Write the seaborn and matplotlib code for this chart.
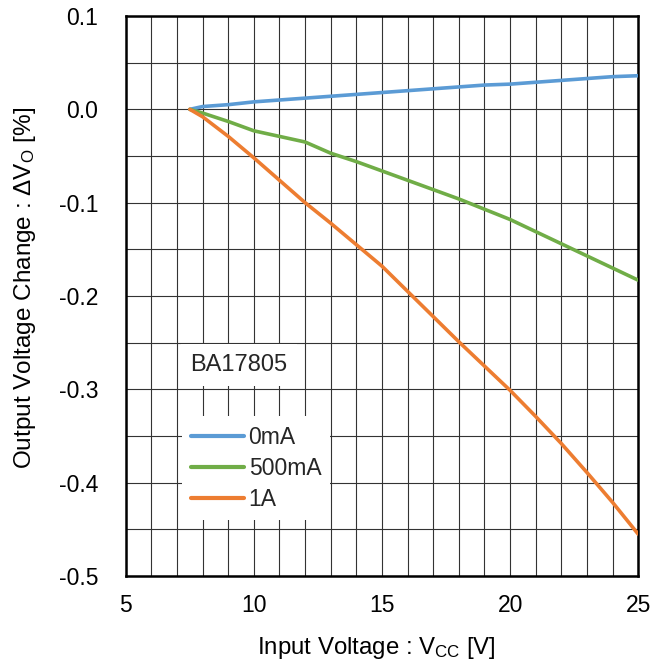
import numpy as np
import pandas as pd
import matplotlib
matplotlib.use("Agg")
import matplotlib.pyplot as plt
import seaborn as sns

# input voltage [V]
vcc = [7.5, 8, 9, 10, 11, 12, 13, 14, 15, 16, 17, 18, 19, 20, 21, 22, 23, 24, 25]

# output voltage change [%] per load current
dv_0mA = [0.0, 0.003, 0.005, 0.008, 0.010, 0.012, 0.014, 0.016, 0.018, 0.020,
          0.022, 0.024, 0.026, 0.027, 0.029, 0.031, 0.033, 0.035, 0.036]
dv_500mA = [0.0, -0.004, -0.013, -0.023, -0.029, -0.035, -0.047, -0.056, -0.066, -0.076,
            -0.086, -0.096, -0.107, -0.118, -0.131, -0.144, -0.157, -0.170, -0.183]
dv_1A = [0.0, -0.008, -0.029, -0.052, -0.076, -0.100, -0.122, -0.145, -0.168, -0.195,
         -0.222, -0.249, -0.275, -0.301, -0.329, -0.358, -0.389, -0.421, -0.455]

loads = ["0mA", "500mA", "1A"]
colors = ["#5B9BD5", "#70AD47", "#ED7D31"]
yticks = [-0.5, -0.4, -0.3, -0.2, -0.1, 0.0, 0.1]
ytick_labels = ["-0.5", "-0.4", "-0.3", "-0.2", "-0.1", "0.0", "0.1"]

df = pd.concat([
    pd.DataFrame({"Vcc": vcc, "dV": d, "load": name})
    for name, d in zip(loads, [dv_0mA, dv_500mA, dv_1A])
])

sns.set_theme(style="white")
plt.rcParams["font.family"] = ["Liberation Sans", "DejaVu Sans"]
plt.rcParams["mathtext.default"] = "regular"

fig = plt.figure(figsize=(6.62, 6.66), dpi=100)
ax = fig.add_axes([0.190, 0.135, 0.774, 0.841])

sns.lineplot(data=df, x="Vcc", y="dV", hue="load", hue_order=loads,
             palette=colors, linewidth=2.6, ax=ax, zorder=3)

ax.set_xlim(5, 25)
ax.set_ylim(-0.5, 0.1)
ax.set_xticks(np.arange(5, 26, 5))
ax.set_xticks(np.arange(5, 26, 1), minor=True)
ax.set_yticks(yticks)
ax.set_yticklabels(ytick_labels)
ax.set_yticks(np.arange(-0.5, 0.11, 0.05), minor=True)
ax.grid(which="both", color="#333333", linewidth=0.8)
ax.tick_params(which="both", length=0, labelsize=16.5, colors="black")
ax.tick_params(axis="y", pad=20)
ax.tick_params(axis="x", pad=13)
for sp in ax.spines.values():
    sp.set_color("black")
    sp.set_linewidth(1.8)

ax.set_xlabel("Input Voltage : V$_{CC}$ [V]", fontsize=17.3, color="black")
ax.set_ylabel("Output Voltage Change : \u0394V$_{O}$ [%]", fontsize=17.5, color="black")
ax.xaxis.set_label_coords(0.49, -0.105)
ax.yaxis.set_label_coords(-0.172, 0.515)

ax.text(7.52, -0.274, "BA17805", fontsize=17, va="center", ha="left", zorder=4,
        bbox=dict(facecolor="white", edgecolor="none", pad=7))

leg = ax.legend(loc="upper left", bbox_to_anchor=(0.11, 0.285), fontsize=16.5,
                frameon=True, fancybox=False, framealpha=1, edgecolor="none",
                handlelength=2.3, handletextpad=0.2, labelspacing=0.35,
                borderpad=0.4, borderaxespad=0)
leg.get_frame().set_facecolor("white")
for h in leg.get_lines():
    h.set_linewidth(3.0)

fig.savefig("out.png", dpi=100)
